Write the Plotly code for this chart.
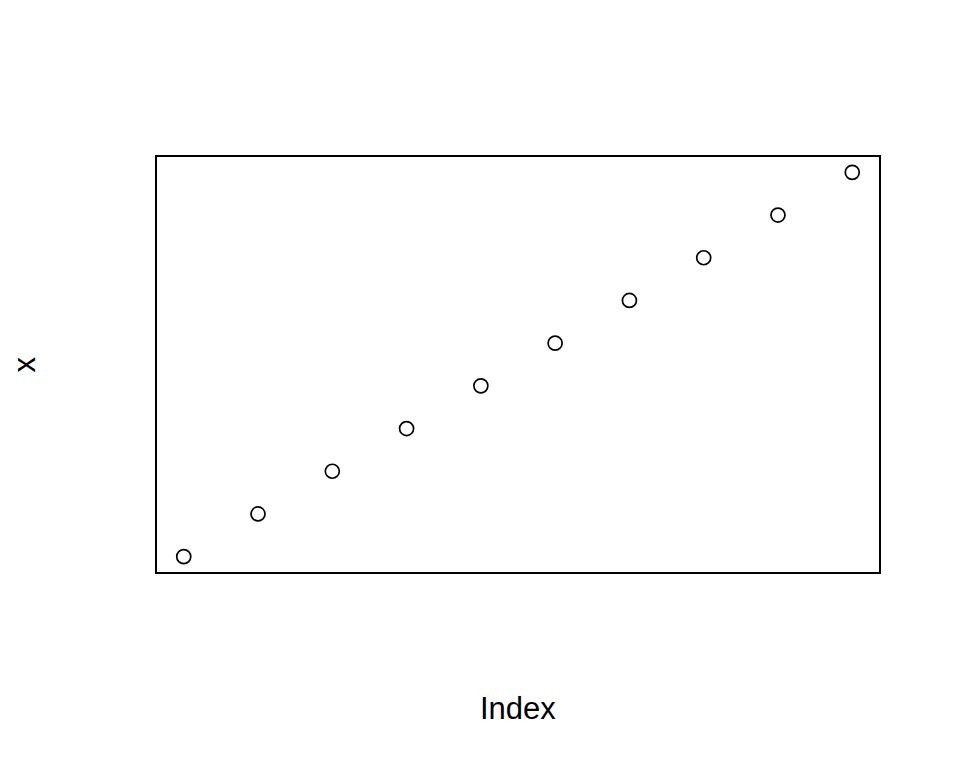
import plotly.graph_objects as go

index = [1, 2, 3, 4, 5, 6, 7, 8, 9, 10]
x = [1, 2, 3, 4, 5, 6, 7, 8, 9, 10]

fig = go.Figure(go.Scatter(
    x=index,
    y=x,
    mode='markers',
    marker=dict(symbol='circle-open', size=14, color='black', line=dict(width=1.7)),
    showlegend=False
))

# R style: 4% padding on each side, no ticks, just the box
pad_x = (max(index) - min(index)) * 0.04
pad_y = (max(x) - min(x)) * 0.04

fig.update_xaxes(
    range=[min(index) - pad_x, max(index) + pad_x],
    showgrid=False, zeroline=False, showticklabels=False, ticks='',
    showline=True, mirror=True, linecolor='black', linewidth=1.5
)
fig.update_yaxes(
    range=[min(x) - pad_y, max(x) + pad_y],
    showgrid=False, zeroline=False, showticklabels=False, ticks='',
    showline=True, mirror=True, linecolor='black', linewidth=1.5
)

fig.add_annotation(text='Index', xref='paper', yref='paper', x=0.5, y=0,
                   yshift=-136, showarrow=False, yanchor='middle',
                   font=dict(family='Liberation Sans', size=31, color='black'))
fig.add_annotation(text='x', xref='paper', yref='paper', x=0, y=0.5,
                   xshift=-133, showarrow=False, textangle=-90, xanchor='center',
                   font=dict(family='Liberation Sans', size=31, color='black'))

# page body has an 8px margin, so margins are shifted to compensate
fig.update_layout(
    width=960, height=768,
    margin=dict(l=149, r=89, t=149, b=204),
    paper_bgcolor='white', plot_bgcolor='white'
)

fig.write_html("out.html")
